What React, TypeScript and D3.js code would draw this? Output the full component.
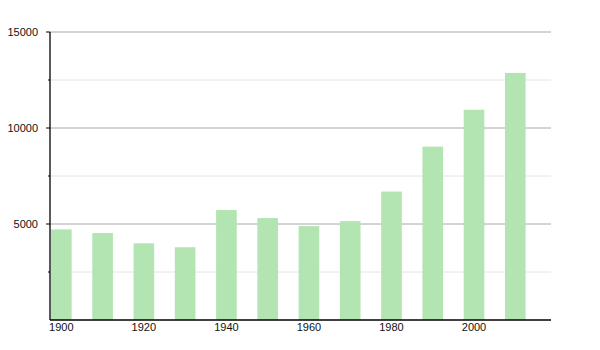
import React from "react";
import * as d3 from "d3";

const years = [1900, 1910, 1920, 1930, 1940, 1950, 1960, 1970, 1980, 1990, 2000, 2010];
const population = [4720, 4530, 3995, 3790, 5730, 5310, 4890, 5150, 6690, 9030, 10950, 12870];
const yMajorTicks = [5000, 10000, 15000];
const yMinorTicks = [2500, 7500, 12500];
const xLabelYears = [1900, 1920, 1940, 1960, 1980, 2000];

const W = 600;
const H = 350;
const left = 50;
const right = 551;
const top = 32;
const bottom = 320;

export default function App() {
  const x = d3
    .scaleBand<number>()
    .domain(years)
    .range([51, 51 + 12 * 41.27])
    .paddingInner(0)
    .paddingOuter(0);
  const y = d3.scaleLinear().domain([0, 15000]).range([bottom, top]);
  const bw = x.bandwidth() * 0.5;
  const font = "'Liberation Sans', Arial, sans-serif";

  return (
    <svg
      width={W}
      height={H}
      style={{ position: "absolute", left: 0, top: 0 }}
      fontFamily={font}
    >
      <rect x={0} y={0} width={W} height={H} fill="#fff" />
      {yMinorTicks.map((t) => (
        <g key={"mi" + t}>
          <line x1={left} x2={right} y1={y(t)} y2={y(t)} stroke="#e4e4e4" strokeWidth={1} />
          <line x1={left - 2} x2={left} y1={y(t)} y2={y(t)} stroke="#000" strokeWidth={1} />
        </g>
      ))}
      {yMajorTicks.map((t) => (
        <g key={"ma" + t}>
          <line x1={left} x2={right} y1={y(t)} y2={y(t)} stroke="#a8a8a8" strokeWidth={1} />
          <line x1={left - 4} x2={left} y1={y(t)} y2={y(t)} stroke="#000" strokeWidth={1} />
          <text
            x={38}
            y={y(t)}
            dy="0.35em"
            textAnchor="end"
            fontSize={11}
            fill="#111"
          >
            {t}
          </text>
        </g>
      ))}
      {years.map((yr, i) => (
        <rect
          key={yr}
          x={x(yr)!}
          y={y(population[i])}
          width={bw}
          height={bottom - y(population[i])}
          fill="#b3e5b3"
        />
      ))}
      <line x1={left} x2={left} y1={top} y2={bottom} stroke="#000" strokeWidth={1.3} />
      <line x1={left} x2={right} y1={bottom} y2={bottom} stroke="#000" strokeWidth={1.3} />
      {xLabelYears.map((yr) => (
        <text
          key={yr}
          x={x(yr)! + bw / 2}
          y={331}
          textAnchor="middle"
          fontSize={11}
          fill="#111"
        >
          {yr}
        </text>
      ))}
    </svg>
  );
}
